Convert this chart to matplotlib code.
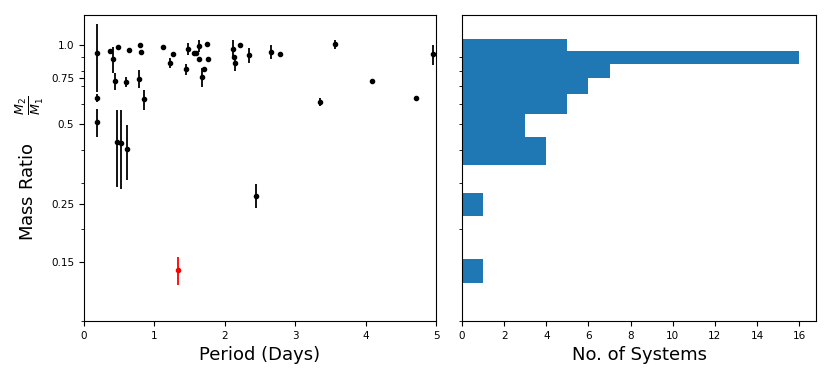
import numpy as np
import matplotlib
matplotlib.use("Agg")
import matplotlib.pyplot as plt
from matplotlib.ticker import NullFormatter

# Period (days), mass ratio q = M2/M1 and its error
period = [0.19, 0.19, 0.185, 0.37, 0.41, 0.445, 0.49, 0.465, 0.52, 0.59,
          0.64, 0.615, 0.78, 0.80, 0.81, 0.855, 1.12, 1.22, 1.27, 1.45,
          1.48, 1.56, 1.59, 1.63, 1.64, 1.675, 1.71, 1.75, 1.76, 2.12,
          2.13, 2.15, 2.22, 2.35, 2.44, 2.66, 2.78, 3.35, 3.565, 4.095,
          4.72, 4.955]
q = [0.935, 0.63, 0.51, 0.949, 0.882, 0.73, 0.985, 0.429, 0.425, 0.725,
     0.96, 0.403, 0.745, 1.0, 0.938, 0.622, 0.983, 0.856, 0.924, 0.81,
     0.968, 0.935, 0.935, 0.994, 0.885, 0.756, 0.81, 1.006, 0.882, 0.968,
     0.903, 0.856, 0.997, 0.916, 0.269, 0.943, 0.922, 0.609, 1.006, 0.734,
     0.63, 0.922]
q_err = [0.27, 0.02, 0.06, 0.0, 0.1, 0.055, 0.0, 0.14, 0.14, 0.03,
         0.0, 0.095, 0.06, 0.0, 0.0, 0.055, 0.0, 0.04, 0.0, 0.04,
         0.05, 0.0, 0.0, 0.05, 0.0, 0.06, 0.0, 0.0, 0.0, 0.08,
         0.0, 0.06, 0.0, 0.06, 0.028, 0.055, 0.0, 0.02, 0.04, 0.0,
         0.0, 0.08]

# highlighted system
new_period = [1.335]
new_q = [0.140]
new_q_err = [0.017]

# histogram of mass ratios
bin_edges = [0.125, 0.155, 0.225, 0.275, 0.35, 0.45, 0.55, 0.65, 0.75, 0.85, 0.95, 1.05]
bin_counts = [1, 0, 1, 0, 4, 3, 5, 6, 7, 16, 5]

q_ticks = [0.15, 0.25, 0.5, 0.75, 1.0]
q_ticklabels = ["0.15", "0.25", "0.5", "0.75", "1.0"]

fig = plt.figure(figsize=(8.3, 3.74), dpi=100)
W, H = 830.0, 374.0
ax1 = fig.add_axes([84 / W, 1 - 321 / H, (436 - 84) / W, (321 - 15) / H])
ax2 = fig.add_axes([462 / W, 1 - 321 / H, (816 - 462) / W, (321 - 15) / H])

# left: mass ratio vs period
ax1.errorbar(period, q, yerr=q_err, fmt='o', color='black', markersize=3,
             elinewidth=1.3, capsize=0)
ax1.errorbar(new_period, new_q, yerr=new_q_err, fmt='o', color='red',
             markersize=3, elinewidth=1.3, capsize=0)
ax1.set_yscale('log')
ax1.set_ylim(0.09, 1.3)
ax1.set_xlim(0, 5)
ax1.set_yticks(q_ticks, q_ticklabels)
ax1.yaxis.set_minor_formatter(NullFormatter())
ax1.tick_params(labelsize=7.5)
ax1.set_xlabel("Period (Days)", fontsize=13)
ax1.set_ylabel(r"Mass Ratio     $\frac{M_2}{M_1}$", fontsize=13)

# right: histogram
centers = [(bin_edges[i] + bin_edges[i + 1]) / 2 for i in range(len(bin_counts))]
ax2.hist(centers, bins=bin_edges, weights=bin_counts, orientation='horizontal',
         color='#1f77b4')
ax2.set_yscale('log')
ax2.set_ylim(0.09, 1.3)
ax2.set_yticks([])
ax2.yaxis.set_minor_formatter(NullFormatter())
ax2.set_xticks(np.arange(0, 17, 2))
ax2.tick_params(labelsize=7.5)
ax2.set_xlabel("No. of Systems", fontsize=13)

fig.savefig("out.png", dpi=100)
